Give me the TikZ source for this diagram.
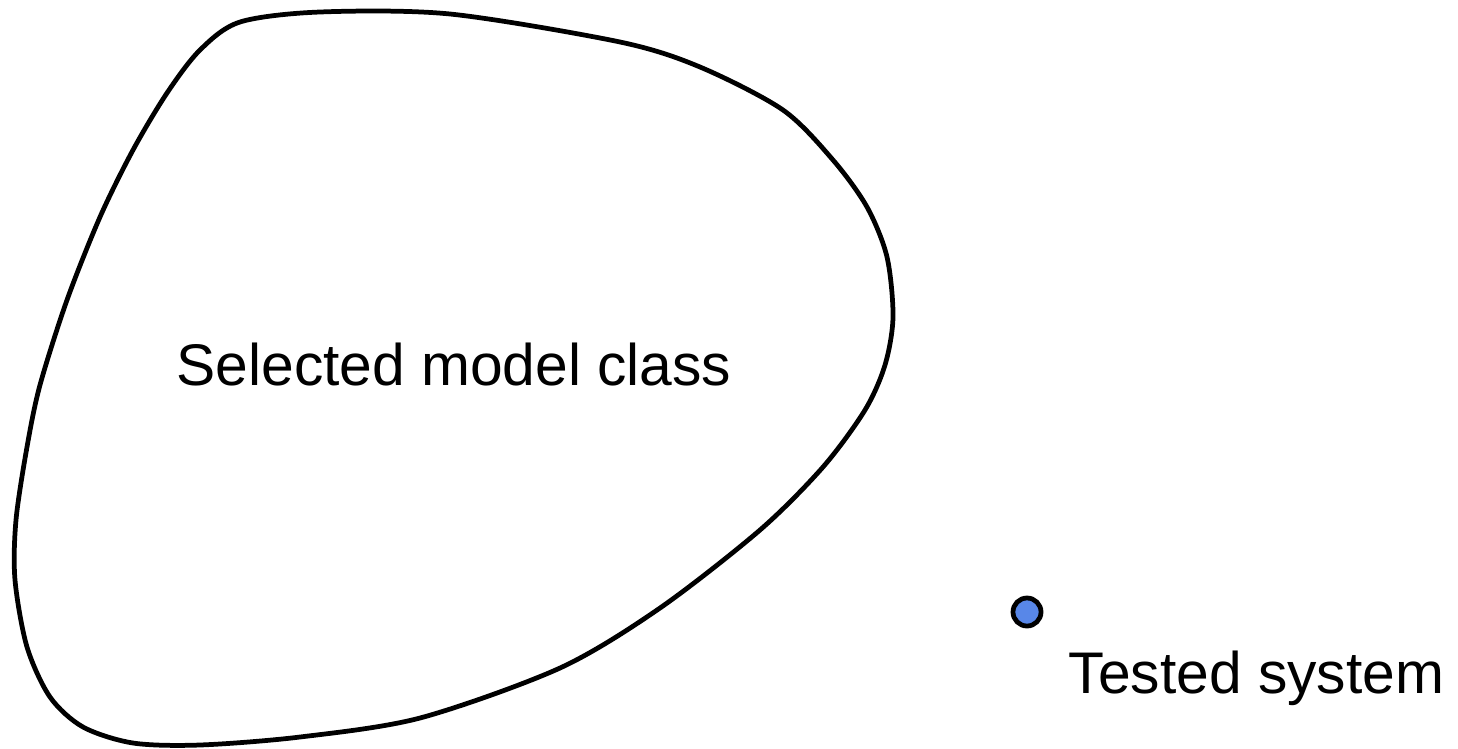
\documentclass[tikz,border=0pt]{standalone}
\usepackage{fontspec}
\setmainfont{Liberation Sans}
\usetikzlibrary{positioning}
\definecolor{dotblue}{RGB}{88,135,232}
\tikzset{lbl/.style={font=\fontsize{16.7}{20}\selectfont,inner sep=0pt}}

\begin{document}
\begin{tikzpicture}[x=0.01cm,y=-0.01cm]
\useasboundingbox (0,0) rectangle (1458,748);
\draw[line width=1.35pt] plot[smooth cycle,tension=0.5] coordinates{(320,12) (450,14) (620,42) (700,67) (783,110) (833,160) (867,207) (887,257) (893,317) (885,365) (865,410) (823,467) (760,530) (660,608) (560,668) (420,718) (300,737) (200,745) (133,743) (83,727) (50,697) (27,647) (15,580) (16,520) (27,447) (40,385) (67,300) (100,217) (133,150) (167,93) (200,50) (240,22)};
\node[lbl,anchor=base] (cls) at (454,385) {Selected model class};
\node[circle,draw,line width=1.35pt,fill=dotblue,minimum size=0.28cm,inner sep=0pt] (sys) at (1027,612) {};
\node[lbl,anchor=base west] (syslbl) at (1068,693) {Tested system};
\end{tikzpicture}
\end{document}
